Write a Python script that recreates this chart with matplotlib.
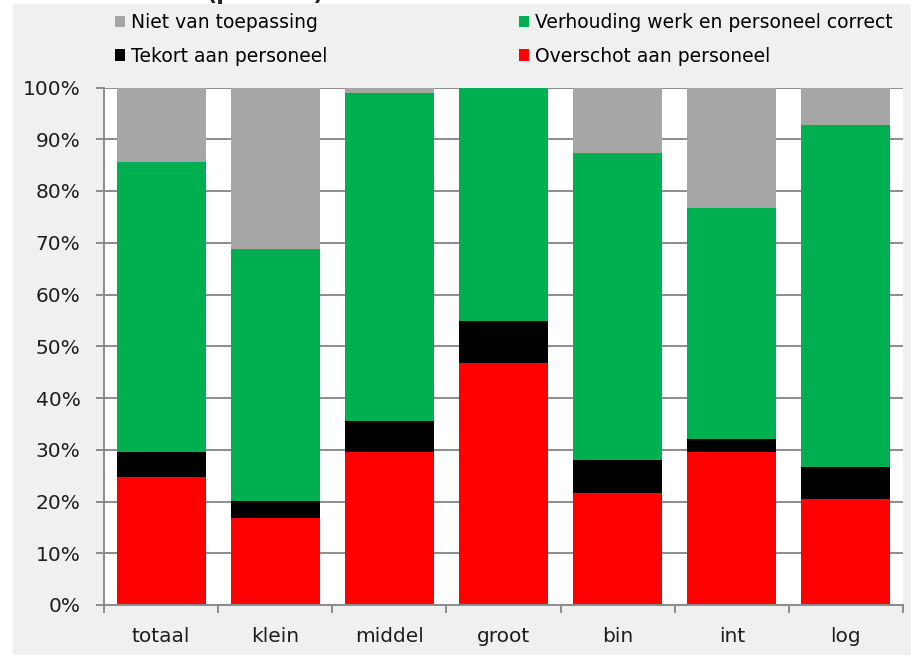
import matplotlib.pyplot as plt
from matplotlib.patches import Rectangle, Patch
from matplotlib.ticker import FixedLocator, PercentFormatter
import numpy as np

# categories and stacked shares (%), bottom -> top
categories = ['totaal', 'klein', 'middel', 'groot', 'bin', 'int', 'log']
overschot = [24.8, 16.9, 29.5, 46.7, 21.6, 29.5, 20.4]
tekort = [4.7, 3.2, 6.0, 8.1, 6.4, 2.6, 6.3]
correct = [56.1, 48.6, 63.5, 45.2, 59.3, 44.6, 66.0]
niet_vt = [14.4, 31.3, 1.0, 0.0, 12.7, 23.3, 7.3]
yticks = np.arange(0, 101, 10)

labels = ['Overschot aan personeel', 'Tekort aan personeel',
          'Verhouding werk en personeel correct', 'Niet van toepassing']
colors = ['#FF0000', '#000000', '#00B050', '#A6A6A6']

W, H = 911, 655
fig = plt.figure(figsize=(W / 100, H / 100), dpi=100, facecolor='white')

# chart area background
fig.patches.append(Rectangle((13 / W, 0), (W - 13) / W, (H - 4) / H,
                             transform=fig.transFigure, facecolor='#F0F0F0',
                             edgecolor='none', zorder=-10))

# title is cut off at the top of the picture
fig.text(265 / W, 1.0, '(procent)', ha='center', va='baseline',
         fontsize=16, fontweight='bold', color='#222222')

ax = fig.add_axes([104 / W, (H - 605) / H, (903 - 104) / W, (605 - 87.5) / H])
ax.set_facecolor('white')

grey = '#8C8C8C'
x = np.arange(len(categories))
# gridlines behind the bars
ax.hlines(yticks, -0.5, len(categories) - 0.5, color=grey, linewidth=1.4,
          zorder=1)

bottom = np.zeros(len(categories))
series = [overschot, tekort, correct, niet_vt]
for vals, lab, col in zip(series, labels, colors):
    ax.bar(x, vals, width=0.78, bottom=bottom, color=col, label=lab,
           edgecolor='none', zorder=3)
    bottom += np.array(vals)

ax.set_xlim(-0.5, len(categories) - 0.5)
ax.set_ylim(0, 100)

ax.yaxis.set_major_locator(FixedLocator(yticks))
ax.yaxis.set_major_formatter(PercentFormatter(decimals=0))

ax.set_xticks(x)
ax.set_xticklabels(categories)
ax.set_xticks(np.arange(-0.5, len(categories)), minor=True)
ax.tick_params(axis='x', which='major', length=0, pad=16, labelsize=14.5,
               labelcolor='#1E1E1E')
ax.tick_params(axis='x', which='minor', length=6, width=1.4, color=grey,
               direction='out')
ax.tick_params(axis='y', length=6, width=1.4, color=grey, direction='out',
               pad=11, labelsize=14.5, labelcolor='#1E1E1E')

for s in ['top', 'right']:
    ax.spines[s].set_visible(False)
for s in ['left', 'bottom']:
    ax.spines[s].set_color(grey)
    ax.spines[s].set_linewidth(1.4)
    ax.spines[s].set_zorder(4)

# legend in two columns at the top
h = {lab: Patch(facecolor=col, edgecolor='none') for lab, col in zip(labels, colors)}
leg_kw = dict(frameon=False, fontsize=13.5, handlelength=0.55, handleheight=0.55,
              handletextpad=0.3, labelspacing=0.78, loc='upper left',
              bbox_transform=fig.transFigure, borderaxespad=0, borderpad=0)
fig.legend([h[labels[3]], h[labels[1]]], [labels[3], labels[1]],
           bbox_to_anchor=(115 / W, 1 - 13 / H), **leg_kw)
fig.legend([h[labels[2]], h[labels[0]]], [labels[2], labels[0]],
           bbox_to_anchor=(519 / W, 1 - 13 / H), **leg_kw)

fig.savefig('out.png', dpi=100, facecolor=fig.get_facecolor())
